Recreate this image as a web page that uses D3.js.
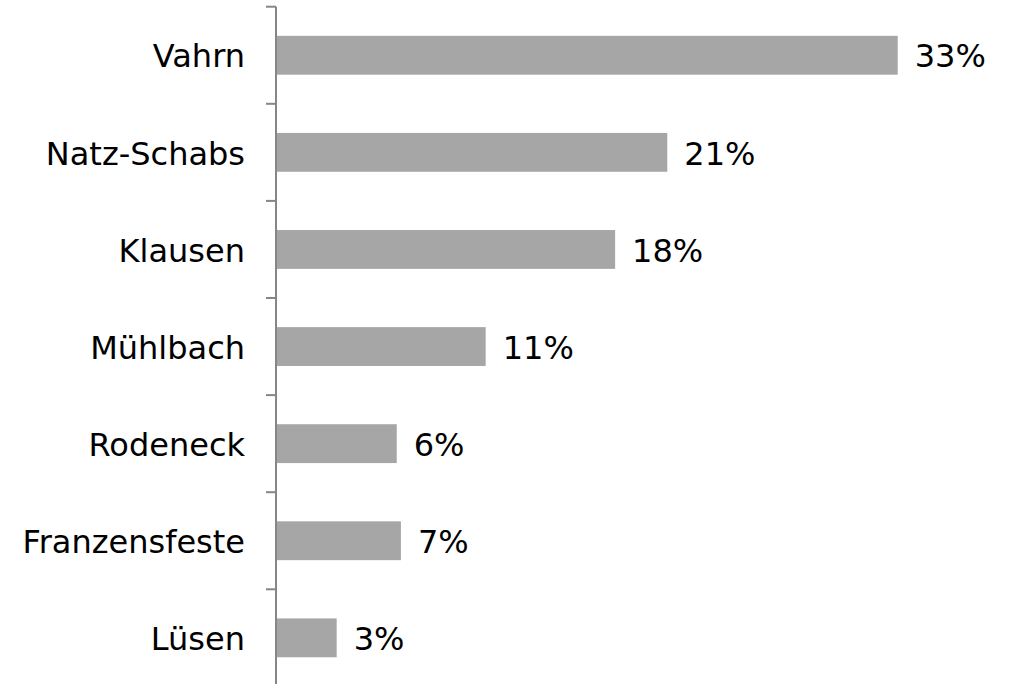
<!DOCTYPE html>
<html>
<head>
<meta charset="utf-8">
<script src="https://cdn.jsdelivr.net/npm/d3@7"></script>
<style>
  body { margin: 0; background: #fff; }
  text { font-family: "DejaVu Sans", Verdana, sans-serif; fill: #000; }
</style>
</head>
<body>
<svg class="bar-chart" width="1015" height="684"></svg>
<script>
/****** Horizontal bar chart *******/
var categories = ["Vahrn", "Natz-Schabs", "Klausen", "Mühlbach", "Rodeneck", "Franzensfeste", "Lüsen"];
var values = [0.33, 0.2077, 0.18, 0.1113, 0.0641, 0.0663, 0.0322];

var data = categories.map(function (c, i) {
    return {name: c, value: values[i]};
});

var svgWidth = 1015, svgHeight = 684;
var margin = {top: 6.7, left: 276};

var svg = d3.select(".bar-chart")
    .attr("width", svgWidth)
    .attr("height", svgHeight);

var x = d3.scaleLinear()
    .domain([0, 0.33])
    .range([margin.left, margin.left + 621.7]);

var y = d3.scaleBand()
    .domain(categories)
    .range([margin.top, margin.top + 7 * 97.1])
    .paddingInner(0.6)
    .paddingOuter(0.3);

var step = y.step();
var fmt = d3.format(".0%");

/** bars **/
svg.selectAll(".bar")
    .data(data)
    .enter().append("rect")
    .attr("class", "bar")
    .attr("fill", "#a6a6a6")
    .attr("x", x(0))
    .attr("y", function (d) { return y(d.name); })
    .attr("width", function (d) { return x(d.value) - x(0); })
    .attr("height", y.bandwidth());

/** value labels **/
svg.selectAll(".val")
    .data(data)
    .enter().append("text")
    .attr("class", "val")
    .attr("x", function (d) { return x(d.value) + 17; })
    .attr("y", function (d) { return y(d.name) + y.bandwidth() / 2; })
    .attr("dy", "0.38em")
    .style("font-size", "32px")
    .text(function (d) { return fmt(d.value); });

/** category axis **/
var axisColor = "#868686";
svg.append("line")
    .attr("x1", x(0)).attr("x2", x(0))
    .attr("y1", margin.top).attr("y2", svgHeight)
    .attr("stroke", axisColor)
    .attr("stroke-width", 2);

var boundaries = categories.map(function (c) {
    return y(c) - step * y.paddingOuter();
});
svg.selectAll(".tick-line")
    .data(boundaries)
    .enter().append("line")
    .attr("class", "tick-line")
    .attr("x1", x(0) - 10).attr("x2", x(0))
    .attr("y1", function (d) { return d; })
    .attr("y2", function (d) { return d; })
    .attr("stroke", axisColor)
    .attr("stroke-width", 2);

svg.selectAll(".cat")
    .data(categories)
    .enter().append("text")
    .attr("class", "cat")
    .attr("x", x(0) - 31)
    .attr("y", function (d) { return y(d) + y.bandwidth() / 2; })
    .attr("dy", "0.38em")
    .attr("text-anchor", "end")
    .style("font-size", "32px")
    .text(function (d) { return d; });
</script>
</body>
</html>
